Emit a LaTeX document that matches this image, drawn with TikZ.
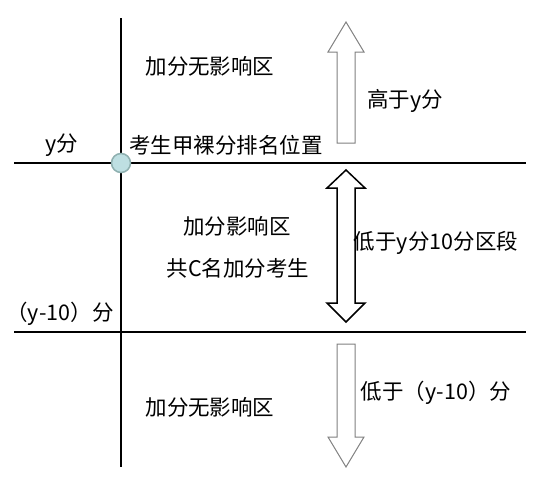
\documentclass[tikz,border=0pt]{standalone}
\usepackage{fontspec}
\setmainfont{Noto Sans CJK SC}
\definecolor{dotfill}{HTML}{BEDFE2}
\definecolor{dotline}{HTML}{8FB0B0}
\definecolor{arrgray}{HTML}{808080}
\begin{document}
\begin{tikzpicture}[x=1pt,y=-1pt,
  lbl/.style={inner sep=0pt,font=\fontsize{21.5}{21.5}\selectfont,text=black},
  axis/.style={line width=2pt,black},
  grayarrow/.style={draw=arrgray,line width=1pt,fill=white},
  blackarrow/.style={draw=black,line width=1.5pt,fill=white}]
\useasboundingbox (0,0) rectangle (550,482);
% axes
\draw[axis] (121,18) -- (121,467);
\draw[axis] (14,163) -- (526,163);
\draw[axis] (14,332) -- (526,332);
\node[circle,minimum size=19pt,inner sep=0pt,fill=dotfill,draw=dotline,line width=1.5pt] (dot) at (121,163) {};
% arrows
\draw[grayarrow] (337,143) -- (337,52) -- (328,52) -- (346,22) -- (364,52) -- (355,52) -- (355,143) -- cycle;
\draw[blackarrow] (346,170) -- (365,188) -- (355,188) -- (355,303) -- (365,303) -- (346,322) -- (327,303) -- (337,303) -- (337,188) -- (327,188) -- cycle;
\draw[grayarrow] (337,344) -- (355,344) -- (355,437) -- (364,437) -- (346,467) -- (328,437) -- (337,437) -- cycle;
% labels
\node[lbl] (t1) at (210,66) {加分无影响区};
\node[lbl] (t2) at (405,101) {高于y分};
\node[lbl] (t3) at (62,145) {y分};
\node[lbl] (t4) at (226,145) {考生甲裸分排名位置};
\node[lbl] (t5) at (237,226) {加分影响区};
\node[lbl] (t6) at (238,268) {共C名加分考生};
\node[lbl] (t7) at (436,243) {低于y分10分区段};
\node[lbl] (t8) at (60,314) {（y-10）分};
\node[lbl] (t9) at (436,393) {低于（y-10）分};
\node[lbl] (t10) at (210,407) {加分无影响区};
\end{tikzpicture}
\end{document}
